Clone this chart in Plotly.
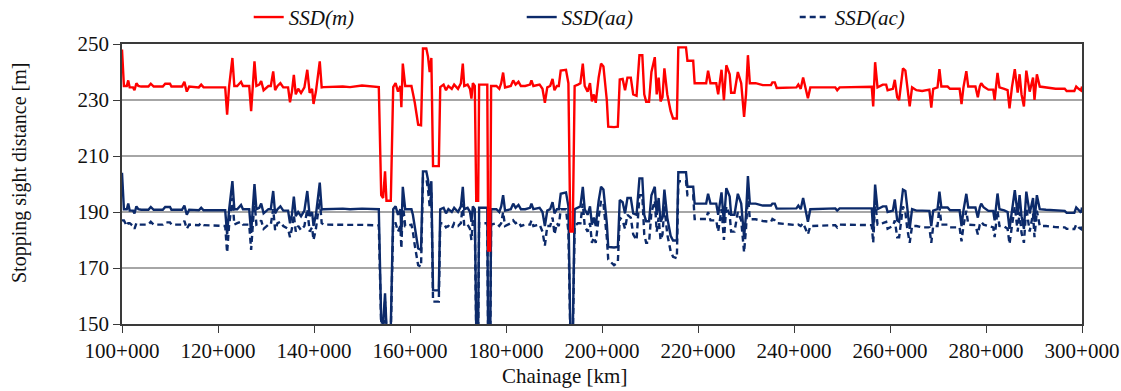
import plotly.graph_objects as go

# ---------------- data ----------------
chainage_km = [
    100.0, 100.4, 101.0, 101.3, 101.6, 102.3, 102.6, 103.0, 103.4, 104.0,
    105.5, 106.0, 106.6, 108.5, 109.0, 110.0, 110.3, 112.5, 113.0, 113.5,
    114.0, 116.0, 116.5, 117.0, 119.5, 121.5, 121.9, 122.3, 123.0, 123.4,
    124.0, 124.8, 125.2, 126.5, 126.9, 127.2, 127.6, 128.0, 128.6, 129.0,
    129.5, 130.5, 131.0, 131.5, 131.9, 132.4, 133.0, 133.6, 134.6, 135.0,
    135.4, 135.8, 136.2, 136.7, 137.3, 138.0, 138.6, 139.1, 139.6, 139.9,
    140.4, 141.2, 141.6, 142.0, 146.0, 147.5, 150.0, 153.5, 154.0, 154.4,
    154.8, 155.1, 156.0, 156.5, 157.0, 157.5, 158.0, 158.2, 158.5, 159.0,
    160.3, 160.6, 161.0, 161.7, 162.3, 162.7, 163.4, 163.75, 164.1, 164.45,
    164.8, 166.0, 166.3, 167.0, 167.5, 168.0, 168.7, 169.2, 170.0, 170.6,
    171.0, 171.3, 172.0, 172.5, 172.8, 173.1, 173.5, 173.8, 174.2, 174.4,
    176.1, 176.3, 176.7, 176.9, 178.0, 178.6, 179.0, 179.4, 179.8, 181.0,
    181.5, 182.0, 182.6, 183.1, 184.0, 185.0, 185.3, 185.7, 187.0, 187.6,
    188.1, 188.6, 189.2, 189.7, 190.1, 190.6, 191.0, 191.4, 192.5, 193.0,
    193.4, 193.9, 194.3, 195.0, 195.5, 196.0, 196.4, 197.0, 197.5, 197.9,
    198.3, 198.7, 199.3, 199.8, 200.3, 201.0, 201.3, 202.5, 203.3, 203.7,
    204.3, 204.8, 205.3, 206.0, 206.5, 207.2, 207.8, 208.4, 208.8, 209.2,
    209.8, 210.3, 211.0, 211.4, 211.8, 212.2, 212.6, 213.0, 213.6, 214.3,
    214.8, 215.6, 215.9, 217.5, 217.8, 219.0, 219.3, 221.7, 222.1, 222.6,
    223.8, 224.2, 224.9, 225.4, 225.9, 226.6, 226.9, 227.6, 228.3, 229.0,
    229.6, 230.0, 230.4, 230.8, 232.0, 233.5, 235.2, 235.5, 236.0, 236.4,
    240.5, 240.9, 241.4, 241.9, 242.4, 242.9, 243.4, 248.6, 249.0, 249.5,
    256.2, 256.5, 256.9, 257.4, 258.5, 259.2, 259.5, 260.6, 261.0, 261.5,
    261.9, 262.3, 262.7, 263.2, 263.6, 264.1, 264.6, 265.5, 266.7, 268.2,
    268.6, 269.0, 269.9, 270.3, 270.7, 272.0, 272.5, 274.5, 274.9, 275.3,
    275.9, 276.3, 277.8, 278.3, 278.7, 279.0, 279.5, 280.5, 281.5, 281.8,
    282.4, 282.8, 283.8, 284.5, 284.9, 285.4, 286.0, 286.6, 287.0, 287.4,
    287.9, 288.4, 289.1, 289.8, 290.1, 290.6, 291.2, 292.5, 294.5, 296.4,
    296.8, 298.4, 298.8, 299.3, 299.8, 300.0,
]

ssd_m = [
    248, 235, 235, 237, 234.5, 234.5, 233.5, 236, 235, 234.8,
    234.8, 235.8, 234.8, 234.8, 235.8, 235.8, 234.8, 234.8, 236.5, 233,
    234.8, 234.5, 235.5, 234.5, 234.5, 234.5, 224.8, 234.5, 245, 235,
    235, 236.5, 235, 235, 226, 234, 243.8, 235, 235.5, 236.8,
    233.5, 235, 235, 240.2, 233.5, 235, 236, 234.5, 234.5, 229.2,
    233, 239, 232, 234, 232.5, 234.5, 240.8, 232.5, 234, 228.6,
    233, 243.8, 234.5, 234.6, 234.8, 234.6, 235.2, 234.6, 196, 195,
    204.5, 194, 194, 234.6, 236, 233, 235, 227.4, 243, 235,
    235, 232.5, 229, 221.2, 221, 248.4, 248.4, 245.5, 240, 245,
    206.4, 206.4, 234.6, 235.5, 233.5, 235, 234, 235.5, 234, 236,
    243, 235, 235.5, 234, 230.5, 236, 235, 194, 194, 235.5,
    235.5, 176.2, 176.2, 235, 235, 234, 236, 239.8, 234.5, 235,
    237, 235.5, 236.5, 235, 235, 235.5, 237, 235, 235.5, 234,
    229, 234.5, 235, 237.5, 233.5, 235, 235, 240.5, 240.8, 236,
    183, 183, 235, 235.5, 236, 243, 235, 233, 236, 229.5,
    232, 229, 238, 243, 242, 230, 220.5, 220.3, 220.5, 237.3,
    237.5, 233.5, 238, 238, 232, 231.5, 246, 246, 232, 229.4,
    229.4, 240, 245.3, 232, 238, 229.5, 231, 241.3, 232, 226,
    223.4, 223.4, 248.8, 248.8, 244, 244, 236, 236, 240.5, 236,
    236, 232, 240.8, 229.9, 242.4, 239.2, 232.6, 232.6, 240, 236,
    224, 232, 246, 236, 236, 235.3, 235.3, 236.3, 236.3, 234.3,
    234.5, 235.5, 234, 238, 234, 230.6, 234.5, 234.5, 233.5, 234.5,
    234.7, 227.7, 243.5, 234.5, 235.5, 235.5, 233.5, 234, 237.2, 231,
    230, 236, 241.3, 240.5, 235, 227.7, 234.5, 233.5, 233.2, 233.7,
    227.3, 234, 234.5, 241, 234.8, 234.8, 234, 234, 228.5, 234.5,
    240.3, 234.8, 234.8, 231, 234.8, 236, 234.8, 233.7, 233.7, 230,
    239.7, 234.5, 234, 233.5, 227, 234.5, 241, 232.6, 239.2, 232,
    227.7, 240.5, 233, 238, 230, 239.2, 234.8, 234.5, 234, 234,
    233.2, 233.2, 234.8, 234, 233.4, 234.8,
]

ssd_aa = [
    204, 191, 191, 193, 190.5, 190.5, 189.5, 192, 191, 190.8,
    190.8, 191.8, 190.8, 190.8, 191.8, 191.8, 190.8, 190.8, 192.3, 189,
    190.8, 190.6, 191.5, 190.6, 190.6, 190.6, 182, 190.6, 201, 191,
    191, 192.5, 191, 191, 182.5, 190, 200, 191, 191.5, 193,
    189.5, 191, 191, 197.5, 189.5, 191, 192, 190.5, 190.5, 186,
    189, 195.5, 188.5, 190, 188.5, 190.5, 197.5, 188.5, 190, 185,
    189, 200.5, 190.8, 191, 191.2, 191, 191.2, 191, 151, 150,
    161, 149, 149, 191, 192, 189, 191, 183, 199, 191,
    191, 189, 185, 177, 176.5, 204.5, 204.5, 201.5, 196, 201,
    162, 162, 191, 191.5, 189.5, 191, 190, 191.5, 190, 192,
    199, 191, 191.5, 190, 186.5, 192, 191, 148, 148, 191.5,
    191.5, 140, 140, 191, 191, 190, 192, 196, 190.5, 191,
    193, 191.5, 192.5, 191, 191, 191.5, 193, 191, 191.5, 190,
    185, 190.5, 191, 193.5, 189.5, 191, 191, 196.5, 197, 192,
    148, 145, 191, 191.5, 192, 199, 191, 189, 192, 185.5,
    188, 185, 194, 199, 198, 186, 177.5, 177.3, 177.5, 194.3,
    193.5, 189.5, 195, 195, 189.5, 189, 202, 202, 189, 186.7,
    186.7, 196, 199, 189, 195, 186.5, 188, 198, 188, 181.5,
    179.8, 179.8, 204.2, 204.2, 199, 199, 193, 193, 196.5, 193,
    193, 189, 197, 186, 198.5, 195.5, 189, 189, 196.5, 193,
    181, 189, 202.8, 193, 193, 192.3, 192.3, 193, 193, 191.2,
    191.3, 192.3, 191, 195, 191, 186.5, 191, 191.3, 190.5, 191.3,
    191.3, 183, 199.8, 191, 192, 192, 190, 190.5, 194.5, 187,
    186.5, 193, 198, 197.5, 191.5, 184, 191, 190.5, 190.5, 190.4,
    185, 190.5, 191, 197.3, 191.6, 191.6, 190.6, 190.6, 185, 190.5,
    196.5, 191.6, 191.6, 188, 191.6, 193, 191.6, 190.4, 190.4, 187,
    196.6, 191, 190.6, 190, 184, 191, 197.8, 189, 196, 188.5,
    184, 197.3, 189.5, 195, 186.5, 196, 191, 190.8, 190.5, 190.4,
    189.7, 189.7, 191.6, 190.5, 189.8, 191.6,
]

ssd_ac = [
    187, 187, 185, 186, 186, 185, 184, 186, 185.5, 185.5,
    185.5, 186.5, 185.5, 185.5, 186.3, 186.3, 185.5, 185.5, 186.8, 184,
    185.5, 185.3, 186, 185.3, 185, 185, 175.5, 185, 195, 185.5,
    186, 186.5, 185.5, 185.5, 176.5, 184, 194, 185.5, 186, 187,
    184, 185.5, 185.5, 191, 183.5, 186, 186.5, 185, 184, 181,
    184, 189, 183, 185, 183.5, 185, 191, 183, 184.5, 180,
    184, 194.5, 186, 185.5, 185.6, 185.4, 185.4, 185.2, 149, 148,
    158, 147, 147, 186, 186, 183, 185, 177, 193, 185,
    185.5, 183, 178, 171, 170.5, 202, 202, 198, 192, 197,
    158, 158, 186, 186, 184.5, 185, 184, 186, 185, 186,
    193, 185, 185.5, 184, 180, 187, 185, 146, 146, 186,
    186, 138, 138, 185.5, 186, 185, 186, 190, 185, 186,
    187, 186, 186.5, 185, 185.5, 185.5, 187, 185, 185.5, 183,
    178, 185, 185, 188, 182, 186, 185, 191, 191, 183,
    146, 143, 185, 186, 186, 193, 185, 183, 186, 179,
    181, 179, 188, 194, 193, 181, 173, 171, 172, 188,
    187, 184, 189, 188, 182, 180, 196, 196, 182, 179,
    179, 190, 194, 183, 188, 180, 182, 192, 182, 176,
    174, 173.5, 201, 201, 196, 196, 187.5, 187.5, 190, 187,
    187, 183, 191, 180, 192, 189, 183, 183, 190, 187,
    175.6, 184, 196, 187.4, 187.4, 186.8, 186.5, 187.5, 187, 186,
    185.3, 185.5, 185, 186, 184, 182, 185, 185.3, 184.5, 185.5,
    185.3, 179, 194, 185.5, 186, 186.5, 184, 185, 187, 181,
    181, 186, 192, 190, 184, 179, 185, 185, 184.5, 184.5,
    179, 185, 185, 192, 185.5, 185.5, 184.5, 184.5, 179.5, 185,
    190.5, 185.5, 185.3, 182, 185.5, 186.5, 185.5, 185, 184.5, 181,
    190.5, 185, 184.8, 184, 178.6, 185, 192, 183, 190, 182.5,
    179, 191.5, 183, 189.5, 181, 190.5, 185, 185, 184.6, 184.5,
    184, 183.9, 185.5, 184.5, 183.9, 185.3,
]

x_tick_values = [100, 120, 140, 160, 180, 200, 220, 240, 260, 280, 300]
x_tick_labels = [f"{v}+000" for v in x_tick_values]
y_tick_values = [150, 170, 190, 210, 230, 250]

assert len(chainage_km) == len(ssd_m) == len(ssd_aa) == len(ssd_ac)

# ---------------- figure ----------------
FONT = "Liberation Serif, Tinos, DejaVu Serif, serif"
NAVY = "#0c2a6a"
RED = "#ff0000"
TXT = "#111111"

fig = go.Figure()
fig.add_trace(go.Scatter(x=chainage_km, y=ssd_aa, mode="lines", name="SSD(aa)",
                         line=dict(color=NAVY, width=2.4), legendrank=2))
fig.add_trace(go.Scatter(x=chainage_km, y=ssd_ac, mode="lines", name="SSD(ac)",
                         line=dict(color=NAVY, width=2.4, dash="6px,4px"), legendrank=3))
fig.add_trace(go.Scatter(x=chainage_km, y=ssd_m, mode="lines", name="SSD(m)",
                         line=dict(color=RED, width=2.4), legendrank=1))

axis_common = dict(
    showline=True, linecolor="#3a3a3a", linewidth=1.5, mirror=True,
    ticks="outside", ticklen=7, tickwidth=1.3, tickcolor="#3a3a3a",
    zeroline=False, automargin=False, ticklabeloverflow="allow",
    tickfont=dict(family=FONT, size=21, color=TXT),
)

fig.update_layout(
    width=1121, height=391,
    margin=dict(l=122, r=39, t=44, b=67, autoexpand=False),
    paper_bgcolor="white", plot_bgcolor="white",
    font=dict(family=FONT, size=21, color=TXT),
    xaxis=dict(range=[100, 300], tickvals=x_tick_values, ticktext=x_tick_labels,
               showgrid=False, **axis_common),
    yaxis=dict(range=[150, 250], tickvals=y_tick_values, showgrid=True,
               gridcolor="#a6a6a6", gridwidth=1.5, **axis_common),
    legend=dict(orientation="h", x=0.132, y=1.095, xanchor="left", yanchor="middle",
                entrywidth=228, entrywidthmode="pixels",
                font=dict(family=FONT, size=21, style="italic", color=TXT),
                bgcolor="rgba(0,0,0,0)", traceorder="normal"),
    showlegend=True,
    annotations=[
        dict(text="Stopping sight distance [m]", xref="paper", yref="paper",
             x=-0.106, y=0.54, textangle=-90, showarrow=False,
             xanchor="center", yanchor="middle",
             font=dict(family=FONT, size=20, color=TXT)),
        dict(text="Chainage [km]", xref="paper", yref="paper",
             x=0.461, y=-0.186, showarrow=False,
             xanchor="center", yanchor="middle",
             font=dict(family=FONT, size=21, color=TXT)),
    ],
)

fig.write_html("out.html")
